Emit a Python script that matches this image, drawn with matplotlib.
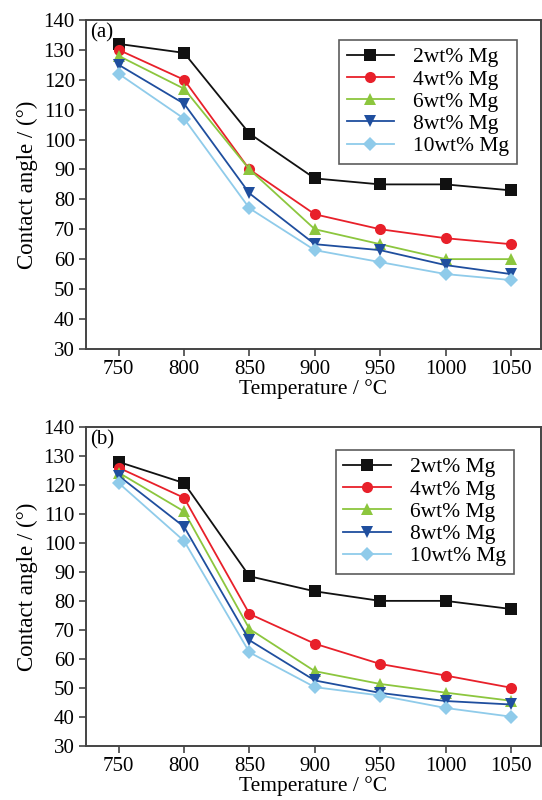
import matplotlib.pyplot as plt

plt.rcParams['font.family'] = ['Liberation Serif', 'DejaVu Serif']

temps = [750, 800, 850, 900, 950, 1000, 1050]
labels = ["2wt% Mg", "4wt% Mg", "6wt% Mg", "8wt% Mg", "10wt% Mg"]

# panel (a)
a_2 = [132, 129, 102, 87, 85, 85, 83]
a_4 = [130, 120, 90, 75, 70, 67, 65]
a_6 = [128, 117, 90, 70, 65, 60, 60]
a_8 = [125, 112, 82, 65, 63, 58, 55]
a_10 = [122, 107, 77, 63, 59, 55, 53]

# panel (b)
b_2 = [128, 120.7, 88.5, 83.3, 80, 80, 77.2]
b_4 = [126, 115.6, 75.5, 65.2, 58.2, 54.2, 50]
b_6 = [124.3, 110.9, 70.3, 55.7, 51.3, 48.3, 45.5]
b_8 = [123.2, 105.6, 66.4, 52.5, 48.2, 45.4, 44.2]
b_10 = [120.7, 100.7, 62.2, 50.2, 47.3, 43, 40]

colors = ["#111111", "#e8202a", "#8cc63e", "#1f4e9e", "#8fcbea"]
markers = ["s", "o", "^", "v", "D"]
msizes = [8, 8, 8, 8, 7]

fig = plt.figure(figsize=(5.42, 8.0), dpi=100)
ax_a = fig.add_axes([0.1587, 0.564, 0.8395, 0.411])
ax_b = fig.add_axes([0.1587, 0.068, 0.8395, 0.398])

panels = [(ax_a, [a_2, a_4, a_6, a_8, a_10], "(a)", (0.947, 0.94)),
          (ax_b, [b_2, b_4, b_6, b_8, b_10], "(b)", (0.94, 0.929))]

for ax, series, tag, anchor in panels:
    for vals, lab, c, m, ms in zip(series, labels, colors, markers, msizes):
        ax.plot(temps, vals, color=c, marker=m, markersize=ms, lw=1.3,
                label=lab, markeredgewidth=0)
    ax.set_xlim(725, 1073)
    ax.set_ylim(30, 140)
    ax.set_xticks(temps)
    ax.set_yticks(range(30, 141, 10))
    ax.tick_params(labelsize=15, direction="out", length=5, width=1.2,
                   color="#444444", pad=3)
    for s in ax.spines.values():
        s.set_linewidth(1.4)
        s.set_color("#444444")
    ax.set_xlabel("Temperature / °C", fontsize=15.5, labelpad=0)
    ax.set_ylabel("Contact angle / (°)", fontsize=16.5, labelpad=4)
    ax.text(0.008, 0.99, tag, transform=ax.transAxes, fontsize=15,
            va="top", ha="left")
    leg = ax.legend(loc="upper right", bbox_to_anchor=anchor,
                    fontsize=15.5, frameon=True, fancybox=False,
                    handlelength=2.2, handletextpad=0.9, labelspacing=0.1,
                    borderpad=0.35, borderaxespad=0)
    leg.get_frame().set_edgecolor("#333333")
    leg.get_frame().set_linewidth(1.2)

plt.savefig("out.png", dpi=100)
